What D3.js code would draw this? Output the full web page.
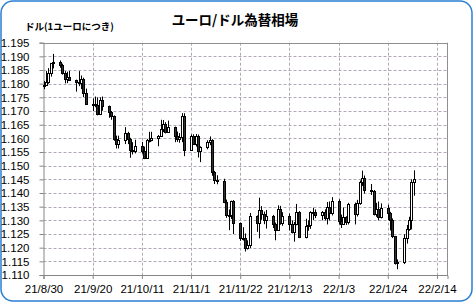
<!DOCTYPE html>
<html><head><meta charset="utf-8">
<script src="https://cdn.jsdelivr.net/npm/d3@7"></script>
<style>html,body{margin:0;padding:0;background:#fff;} svg{display:block;}</style>
</head><body>
<svg id="c" width="473" height="303"></svg>
<script>
const dates = ["2021-08-30","2021-08-31","2021-09-01","2021-09-02","2021-09-03",
"2021-09-06","2021-09-07","2021-09-08","2021-09-09","2021-09-10",
"2021-09-13","2021-09-14","2021-09-15","2021-09-16","2021-09-17",
"2021-09-20","2021-09-21","2021-09-22","2021-09-23","2021-09-24",
"2021-09-27","2021-09-28","2021-09-29","2021-09-30","2021-10-01",
"2021-10-04","2021-10-05","2021-10-06","2021-10-07","2021-10-08",
"2021-10-11","2021-10-12","2021-10-13","2021-10-14","2021-10-15",
"2021-10-18","2021-10-19","2021-10-20","2021-10-21","2021-10-22",
"2021-10-25","2021-10-26","2021-10-27","2021-10-28","2021-10-29",
"2021-11-01","2021-11-02","2021-11-03","2021-11-04","2021-11-05",
"2021-11-08","2021-11-09","2021-11-10","2021-11-11","2021-11-12",
"2021-11-15","2021-11-16","2021-11-17","2021-11-18","2021-11-19",
"2021-11-22","2021-11-23","2021-11-24","2021-11-25","2021-11-26",
"2021-11-29","2021-11-30","2021-12-01","2021-12-02","2021-12-03",
"2021-12-06","2021-12-07","2021-12-08","2021-12-09","2021-12-10",
"2021-12-13","2021-12-14","2021-12-15","2021-12-16","2021-12-17",
"2021-12-20","2021-12-21","2021-12-22","2021-12-23","2021-12-24",
"2021-12-27","2021-12-28","2021-12-29","2021-12-30","2021-12-31",
"2022-01-03","2022-01-04","2022-01-05","2022-01-06","2022-01-07",
"2022-01-10","2022-01-11","2022-01-12","2022-01-13","2022-01-14",
"2022-01-17","2022-01-18","2022-01-19","2022-01-20","2022-01-21",
"2022-01-24","2022-01-25","2022-01-26","2022-01-27","2022-01-28",
"2022-01-31","2022-02-01","2022-02-02","2022-02-03","2022-02-04"];
const open = [1.1795,1.1797,1.1808,1.1840,1.1874,
1.1880,1.1870,1.1838,1.1818,1.1826,
1.1813,1.1806,1.1804,1.1819,1.1765,
1.1725,1.1727,1.1723,1.1689,1.1740,
1.1719,1.1695,1.1683,1.1597,1.1578,
1.1595,1.1621,1.1597,1.1556,1.1553,
1.1572,1.1552,1.1528,1.1595,1.1595,
1.1600,1.1608,1.1633,1.1654,1.1623,
1.1642,1.1608,1.1596,1.1604,1.1680,
1.1558,1.1607,1.1580,1.1609,1.1553,
1.1567,1.1587,1.1593,1.1477,1.1446,
1.1443,1.1367,1.1321,1.1318,1.1370,
1.1289,1.1236,1.1234,1.1198,1.1209,
1.1317,1.1290,1.1337,1.1322,1.1302,
1.1316,1.1287,1.1265,1.1342,1.1292,
1.1317,1.1286,1.1258,1.1288,1.1330,
1.1239,1.1281,1.1283,1.1329,1.1329,
1.1320,1.1329,1.1310,1.1350,1.1326,
1.1370,1.1298,1.1285,1.1312,1.1294,
1.1360,1.1325,1.1365,1.1441,1.1456,
1.1412,1.1407,1.1325,1.1343,1.1311,
1.1344,1.1326,1.1303,1.1241,1.1144,
1.1147,1.1235,1.1270,1.1303,1.1440];
const high = [1.1810,1.1846,1.1857,1.1874,1.1909,
1.1885,1.1873,1.1846,1.1844,1.1847,
1.1815,1.1846,1.1830,1.1822,1.1782,
1.1746,1.1753,1.1750,1.1750,1.1753,
1.1720,1.1700,1.1684,1.1610,1.1610,
1.1641,1.1624,1.1602,1.1586,1.1595,
1.1587,1.1570,1.1598,1.1624,1.1624,
1.1612,1.1668,1.1667,1.1659,1.1665,
1.1643,1.1625,1.1619,1.1692,1.1692,
1.1614,1.1615,1.1616,1.1614,1.1571,
1.1593,1.1607,1.1597,1.1481,1.1465,
1.1452,1.1376,1.1340,1.1372,1.1374,
1.1292,1.1275,1.1252,1.1227,1.1327,
1.1318,1.1383,1.1352,1.1332,1.1338,
1.1320,1.1292,1.1355,1.1353,1.1330,
1.1325,1.1300,1.1294,1.1360,1.1334,
1.1306,1.1300,1.1333,1.1346,1.1340,
1.1334,1.1340,1.1367,1.1369,1.1385,
1.1377,1.1321,1.1347,1.1315,1.1364,
1.1365,1.1375,1.1446,1.1482,1.1464,
1.1433,1.1411,1.1364,1.1369,1.1362,
1.1357,1.1331,1.1307,1.1243,1.1157,
1.1249,1.1283,1.1313,1.1450,1.1483];
const low = [1.1780,1.1793,1.1800,1.1826,1.1856,
1.1858,1.1833,1.1801,1.1802,1.1812,
1.1771,1.1791,1.1780,1.1751,1.1724,
1.1700,1.1714,1.1684,1.1685,1.1701,
1.1675,1.1668,1.1591,1.1563,1.1563,
1.1579,1.1579,1.1529,1.1541,1.1545,
1.1544,1.1524,1.1526,1.1585,1.1589,
1.1571,1.1605,1.1623,1.1618,1.1623,
1.1586,1.1587,1.1584,1.1586,1.1535,
1.1557,1.1577,1.1570,1.1530,1.1513,
1.1560,1.1575,1.1463,1.1433,1.1432,
1.1363,1.1309,1.1264,1.1305,1.1250,
1.1225,1.1226,1.1186,1.1193,1.1199,
1.1258,1.1234,1.1302,1.1286,1.1270,
1.1272,1.1227,1.1262,1.1284,1.1280,
1.1263,1.1252,1.1222,1.1282,1.1235,
1.1234,1.1262,1.1269,1.1301,1.1308,
1.1300,1.1300,1.1285,1.1300,1.1318,
1.1285,1.1272,1.1284,1.1283,1.1285,
1.1285,1.1314,1.1357,1.1426,1.1398,
1.1393,1.1318,1.1313,1.1300,1.1307,
1.1301,1.1263,1.1235,1.1138,1.1121,
1.1140,1.1215,1.1262,1.1267,1.1390];
const close = [1.1797,1.1808,1.1840,1.1874,1.1880,
1.1870,1.1838,1.1818,1.1826,1.1813,
1.1806,1.1804,1.1819,1.1765,1.1725,
1.1727,1.1723,1.1689,1.1740,1.1719,
1.1695,1.1683,1.1597,1.1578,1.1595,
1.1621,1.1597,1.1556,1.1553,1.1572,
1.1552,1.1528,1.1595,1.1595,1.1600,
1.1608,1.1633,1.1654,1.1623,1.1642,
1.1608,1.1596,1.1604,1.1680,1.1558,
1.1607,1.1580,1.1609,1.1553,1.1567,
1.1587,1.1593,1.1477,1.1446,1.1443,
1.1367,1.1321,1.1318,1.1370,1.1289,
1.1236,1.1234,1.1198,1.1209,1.1317,
1.1290,1.1337,1.1322,1.1302,1.1316,
1.1287,1.1265,1.1342,1.1292,1.1317,
1.1286,1.1258,1.1288,1.1330,1.1239,
1.1281,1.1283,1.1329,1.1329,1.1320,
1.1329,1.1310,1.1350,1.1326,1.1370,
1.1298,1.1285,1.1312,1.1294,1.1360,
1.1325,1.1365,1.1441,1.1456,1.1412,
1.1407,1.1325,1.1343,1.1311,1.1344,
1.1326,1.1303,1.1241,1.1144,1.1147,
1.1235,1.1270,1.1303,1.1440,1.1452];
const xTickLabels = ["21/8/30","21/9/20","21/10/11","21/11/1","21/11/22","21/12/13","22/1/3","22/1/24","22/2/14"];
const yTicks = [1.110,1.115,1.120,1.125,1.130,1.135,1.140,1.145,1.150,1.155,1.160,1.165,1.170,1.175,1.180,1.185,1.190,1.195];
const title = "ユーロ/ドル為替相場";
const yTitle = "ドル(1ユーロにつき)";

const parse = d3.utcParse("%Y-%m-%d");
const parseTick = s => { const [yy,m,d] = s.split("/").map(Number); return Date.UTC(2000+yy, m-1, d); };
const data = dates.map((d,i)=>({d:parse(d), o:open[i], h:high[i], l:low[i], c:close[i]}));
const xTicks = xTickLabels.map(s => new Date(parseTick(s)));

const L = 43.5, R = 447.5, T = 42.7, B = 275;
const x = d3.scaleUtc().domain([new Date(Date.UTC(2021,7,30)), new Date(Date.UTC(2022,1,18,12))]).range([L, R]);
const y = d3.scaleLinear().domain([1.110, 1.195]).range([B, T]);

const svg = d3.select("#c");
svg.append("rect").attr("x",1).attr("y",1).attr("width",471).attr("height",300)
  .attr("rx",12).attr("ry",12).attr("fill","#fff").attr("stroke","#2a7fd4").attr("stroke-width",1.5);

const gridColor = "#b2a7b6";
const g = svg.append("g");
g.selectAll("line.hg").data(yTicks.slice(1,-1)).enter().append("line")
  .attr("x1",L).attr("x2",R).attr("y1",d=>Math.round(y(d))+0.5).attr("y2",d=>Math.round(y(d))+0.5)
  .attr("stroke",gridColor).attr("stroke-dasharray","3,2");
g.selectAll("line.vg").data(xTicks.slice(1)).enter().append("line")
  .attr("y1",T).attr("y2",B).attr("x1",d=>Math.round(x(d))+0.5).attr("x2",d=>Math.round(x(d))+0.5)
  .attr("stroke",gridColor).attr("stroke-dasharray","3,2");
// plot border top/right
svg.append("line").attr("x1",L).attr("x2",R).attr("y1",Math.round(T)+0.5).attr("y2",Math.round(T)+0.5).attr("stroke","#8f8f8f");
svg.append("line").attr("x1",R).attr("x2",R).attr("y1",T).attr("y2",B).attr("stroke","#8f8f8f");

const font = "'Liberation Sans', Arial, sans-serif";
const ax = svg.append("g").attr("transform",`translate(0,${B})`)
  .call(d3.axisBottom(x).tickValues(xTicks).tickSize(4).tickPadding(6).tickFormat((d,i)=>xTickLabels[i]));
const ay = svg.append("g").attr("transform",`translate(${L},0)`)
  .call(d3.axisLeft(y).tickValues(yTicks).tickSize(4).tickPadding(10).tickFormat(d3.format(".3f")));
[ax,ay].forEach(a=>{
  a.selectAll("path.domain").attr("stroke","#868686");
  a.selectAll(".tick line").attr("stroke","#868686");
  a.selectAll("text").attr("fill","#000").style("font-family",font).style("font-size","11.5px");
});

// candles
const cg = svg.append("g");
data.forEach(p=>{
  const cx = Math.round(x(p.d));
  cg.append("line").attr("x1",cx+0.5).attr("x2",cx+0.5).attr("y1",y(p.h)).attr("y2",y(p.l))
    .attr("stroke","#000").attr("stroke-width",1);
  const up = p.c >= p.o;
  const top = Math.round(y(Math.max(p.o,p.c)))+0.5;
  const bot = Math.max(top+1, Math.round(y(Math.min(p.o,p.c)))+0.5);
  cg.append("rect").attr("x",cx-0.5).attr("width",2).attr("y",top).attr("height",bot-top)
    .attr("fill", up ? "#fff" : "#2b332b").attr("stroke","#000").attr("stroke-width",1);
});

svg.append("text").attr("x",235).attr("y",25).attr("text-anchor","middle")
  .style("font-family","'Noto Sans CJK JP', sans-serif").style("font-weight","bold").style("font-size","13.5px")
  .attr("fill","#000").text(title);
svg.append("text").attr("x",25).attr("y",30)
  .style("font-family","'Noto Sans CJK JP', sans-serif").style("font-weight","bold").style("font-size","9.5px")
  .attr("fill","#000").text(yTitle);
</script>
</body></html>
